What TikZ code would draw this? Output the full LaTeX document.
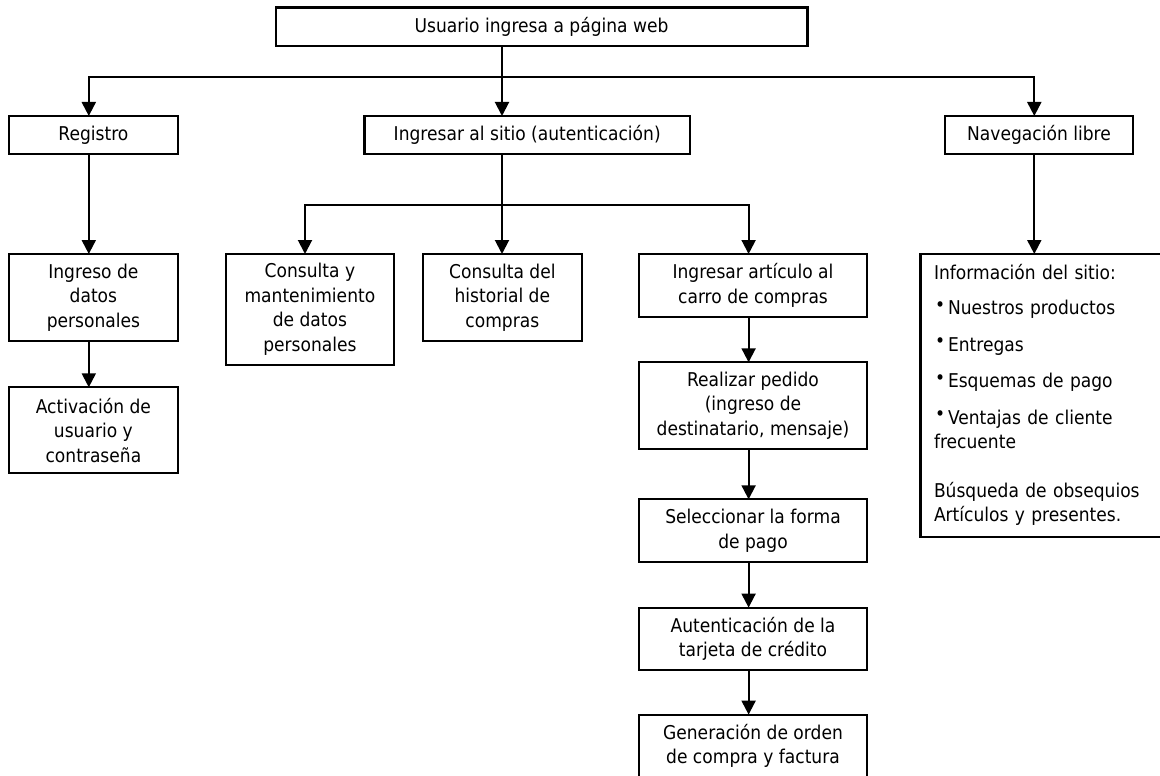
\documentclass[tikz,border=0pt]{standalone}
\usepackage{fontspec}
\setmainfont{DejaVu Sans}[FakeStretch=0.9]
\usetikzlibrary{positioning, arrows.meta}
\newcommand{\bul}{\makebox[14pt][l]{\hspace{1pt}\raisebox{3.5pt}{•}}}
\tikzset{
	->,
	>={Triangle[length=14pt, width=14pt]},
	box/.style={draw, line width=2.2pt, align=center, inner sep=0pt, outer sep=0pt, minimum height=62.7pt, font=\fontsize{19}{24.5}\selectfont},
}

\begin{document}
\begin{tikzpicture}[x=1pt, y=-1pt, line width=2pt]
			\useasboundingbox (0,0) rectangle (1160,776);
			\node[box, minimum width=531.9pt, minimum height=38.5pt] (USUARIO) at (541.55,26.75) {Usuario ingresa a página web};
			\node[box, minimum width=168.4pt, minimum height=38.3pt] (REGISTRO) at (93.4,135.15) {Registro};
			\node[box, minimum width=325.6pt, minimum height=38.3pt] (INGRESAR) at (527.2,135.15) {Ingresar al sitio (autenticación)};
			\node[box, minimum width=188pt, minimum height=38.3pt] (NAVEGACION) at (1039,135.15) {Navegación libre};
			\node[box, anchor=north, minimum width=168.4pt, minimum height=86.7pt] (DATOS) at (93.4,254) {Ingreso de\\datos\\personales};
			\node[box, below=46.6pt of DATOS, minimum width=168.4pt, minimum height=86pt] (ACTIVACION) {Activación de\\usuario y\\contraseña};
			\node[box, anchor=north, minimum width=168.2pt, minimum height=111pt] (MANT) at (309.9,254) {Consulta y\\mantenimiento\\de datos\\personales};
			\node[box, anchor=north, minimum width=158.7pt, minimum height=86.7pt] (HIST) at (502.35,254) {Consulta del\\historial de\\compras};
			\node[box, anchor=north, minimum width=227.4pt] (CARRO) at (753,254) {Ingresar artículo al\\carro de compras};
			\node[box, below=45.6pt of CARRO, minimum width=227.4pt, minimum height=86.7pt] (PEDIDO) {Realizar pedido\\(ingreso de\\destinatario, mensaje)};
			\node[box, below=50.3pt of PEDIDO, minimum width=227.4pt] (PAGO) {Seleccionar la forma\\de pago};
			\node[box, below=45.6pt of PAGO, minimum width=227.4pt] (TARJETA) {Autenticación de la\\tarjeta de crédito};
			\node[box, below=44.3pt of TARJETA, minimum width=227.4pt] (ORDEN) {Generación de orden\\de compra y factura};
			\node[box, anchor=north west, align=left, text width=228pt, inner xsep=13.5pt, minimum height=282.7pt] (INFO) at (920.5,254) {Información del sitio:\\[10.5pt]
				\bul Nuestros productos\\[12pt]
				\bul Entregas\\[12pt]
				\bul Esquemas de pago\\[12pt]
				\bul Ventajas de cliente\\frecuente\\[24pt]
				Búsqueda de obsequios\\Artículos y presentes.};
			
			\coordinate (B1) at (502,77);
			\coordinate (B2) at (502,205);
			
			\draw (USUARIO.south -| B1) -- (INGRESAR.north -| B1);
			\draw (B1) -| ([xshift=-4.6pt]REGISTRO.north);
			\draw (B1) -| ([xshift=-4.7pt]NAVEGACION.north);
			\draw ([xshift=-4.6pt]REGISTRO.south) -- ([xshift=-4.6pt]DATOS.north);
			\draw ([xshift=-4.6pt]DATOS.south) -- ([xshift=-4.6pt]ACTIVACION.north);
			\draw (INGRESAR.south -| B2) -- (HIST.north -| B2);
			\draw (B2) -| ([xshift=-4.9pt]MANT.north);
			\draw (B2) -| ([xshift=-4.4pt]CARRO.north);
			\draw ([xshift=-4.4pt]CARRO.south) -- ([xshift=-4.4pt]PEDIDO.north);
			\draw ([xshift=-4.4pt]PEDIDO.south) -- ([xshift=-4.4pt]PAGO.north);
			\draw ([xshift=-4.4pt]PAGO.south) -- ([xshift=-4.4pt]TARJETA.north);
			\draw ([xshift=-4.4pt]TARJETA.south) -- ([xshift=-4.4pt]ORDEN.north);
			\draw ([xshift=-4.7pt]NAVEGACION.south) -- ([xshift=-4.7pt]NAVEGACION.south |- INFO.north);
		\end{tikzpicture}
\end{document}
